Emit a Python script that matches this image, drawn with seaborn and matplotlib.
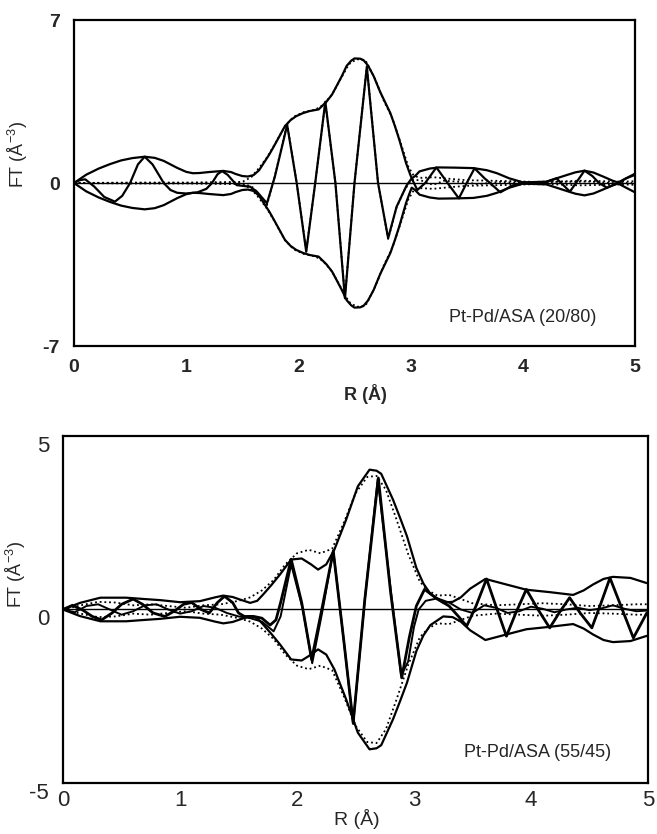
import numpy as np
import seaborn as sns
import matplotlib
matplotlib.use("Agg")
import matplotlib.pyplot as plt
from matplotlib.transforms import ScaledTranslation

# ---------------- Pt-Pd/ASA (20/80) ----------------
r_mag_top = [0.00, 0.11, 0.22, 0.32, 0.42, 0.52, 0.63, 0.72, 0.80, 0.92,
             1.00, 1.06, 1.12, 1.20, 1.33, 1.40, 1.44, 1.50, 1.55, 1.60,
             1.65, 1.69, 1.74, 1.78, 1.83, 1.88, 1.93, 1.98, 2.04, 2.10,
             2.18, 2.25, 2.30, 2.34, 2.39, 2.43, 2.47, 2.50, 2.55, 2.58,
             2.62, 2.67, 2.73, 2.78, 2.82, 2.86, 2.90, 2.93, 2.96, 2.99,
             3.01, 3.04, 3.08, 3.17, 3.25, 3.40, 3.56, 3.68, 3.77, 3.88,
             4.00, 4.10, 4.21, 4.30, 4.39, 4.47, 4.55, 4.63, 4.72, 4.80,
             4.85, 4.92, 5.00]
mag_top = [0.00, 0.36, 0.62, 0.81, 0.97, 1.07, 1.13, 1.08, 0.95, 0.65,
           0.48, 0.42, 0.43, 0.47, 0.52, 0.47, 0.39, 0.30, 0.28, 0.34,
           0.55, 0.85, 1.22, 1.56, 2.00, 2.44, 2.70, 2.87, 3.00, 3.09,
           3.16, 3.49, 3.80, 4.16, 4.62, 5.03, 5.25, 5.35, 5.34, 5.28,
           5.05, 4.60, 3.90, 3.40, 3.00, 2.45, 1.85, 1.35, 0.85, 0.45,
           0.20, 0.30, 0.50, 0.62, 0.67, 0.66, 0.64, 0.55, 0.42, 0.20,
           0.03, 0.04, 0.06, 0.20, 0.34, 0.46, 0.53, 0.45, 0.27, 0.10,
           0.02, 0.20, 0.40]

r_im_top = [0.00, 0.05, 0.10, 0.18, 0.27, 0.365, 0.43, 0.50, 0.57, 0.63,
            0.70, 0.80, 0.86, 0.92, 1.00, 1.10, 1.18, 1.23, 1.28, 1.32,
            1.37, 1.45,
            1.57, 1.63, 1.72, 1.79, 1.90, 1.985, 2.07, 2.15, 2.24, 2.33,
            2.415, 2.50, 2.61, 2.71, 2.80, 2.875, 2.965, 3.01, 3.06, 3.13,
            3.23, 3.33, 3.43, 3.50, 3.57, 3.66, 3.72, 3.80, 3.91, 4.00,
            4.10, 4.20, 4.30, 4.42, 4.55, 4.62, 4.68, 4.75, 4.85, 4.92,
            5.00]
im_top = [0.00, 0.12, 0.16, -0.15, -0.60, -0.80, -0.55, 0.00, 0.80, 1.13,
          0.80, 0.00, -0.30, -0.42, -0.45, -0.40, -0.25, 0.00, 0.38, 0.51,
          0.35, -0.09,
          -0.16, -0.37, -0.87, 0.27, 2.49, 0.00, -2.95, 0.00, 3.49, 0.00,
          -4.95, 0.00, 4.99, 0.00, -2.37, -1.02, -0.10, 0.20, -0.30, 0.00,
          0.67, 0.00, -0.66, 0.00, 0.63, 0.20, -0.05, -0.40, -0.10, 0.02,
          0.00, 0.03, 0.20, -0.37, 0.53, 0.30, 0.00, -0.20, 0.00, 0.20,
          0.35]

r_fitmag_top = [0.00, 0.50, 1.00, 1.50, 1.58, 1.65, 1.72, 1.80, 1.88, 1.96,
                2.05, 2.15, 2.22, 2.30, 2.38, 2.45, 2.52, 2.60, 2.68, 2.76,
                2.84, 2.92, 2.98, 3.03, 3.10, 3.20, 3.35, 3.50, 3.70, 3.90,
                4.10, 4.30, 4.50, 4.70, 4.90, 5.00]
fitmag_top = [0.00, 0.02, 0.02, 0.05, 0.25, 0.65, 1.10, 1.75, 2.45, 2.85,
              3.05, 3.15, 3.35, 3.80, 4.50, 5.10, 5.32, 5.25, 4.50, 3.55,
              2.75, 1.60, 0.70, 0.30, 0.22, 0.25, 0.18, 0.12, 0.10, 0.08,
              0.05, 0.06, 0.10, 0.08, 0.06, 0.08]

r_fitim_top = [0.00, 0.50, 1.00, 1.50, 1.60, 1.72, 1.79, 1.90, 1.985, 2.07,
               2.15, 2.24, 2.33, 2.415, 2.50, 2.61, 2.71, 2.80, 2.875, 2.95,
               3.02, 3.10, 3.20, 3.30, 3.45, 3.60, 3.80, 4.00, 4.30, 4.60,
               4.80, 5.00]
fitim_top = [0.00, 0.00, 0.00, 0.00, -0.20, -0.95, 0.30, 2.55, 0.00, -2.90,
             0.00, 3.45, 0.00, -4.90, 0.00, 5.02, 0.00, -2.40, -1.05, -0.25,
             0.15, 0.10, -0.08, 0.10, 0.05, -0.05, 0.05, 0.00, 0.05, 0.06,
             0.00, 0.00]

# ---------------- Pt-Pd/ASA (55/45) ----------------
r_mag_bot = [0.00, 0.145, 0.32, 0.54, 0.70, 0.83, 1.00, 1.17, 1.30, 1.37,
             1.45, 1.51, 1.60, 1.66, 1.71, 1.78, 1.855, 1.95, 2.04, 2.12,
             2.18, 2.25, 2.32, 2.42, 2.52, 2.62, 2.68, 2.72, 2.82, 2.88,
             2.94, 3.02, 3.08, 3.14, 3.25, 3.33, 3.40, 3.48, 3.61, 3.70,
             3.79, 3.96, 4.16, 4.36, 4.45, 4.53, 4.62, 4.70, 4.85, 4.99]
mag_bot = [0.00, 0.19, 0.34, 0.34, 0.30, 0.27, 0.21, 0.24, 0.35, 0.40,
           0.36, 0.29, 0.19, 0.25, 0.43, 0.70, 1.01, 1.44, 1.47, 1.30,
           1.15, 1.30, 1.73, 2.59, 3.55, 4.03, 4.00, 3.91, 3.17, 2.65,
           2.11, 1.20, 0.75, 0.45, 0.20, 0.22, 0.35, 0.60, 0.88, 0.80,
           0.72, 0.57, 0.50, 0.42, 0.55, 0.72, 0.88, 0.94, 0.91, 0.76]

r_im_bot = [0.00, 0.08, 0.17, 0.25, 0.33, 0.42, 0.50, 0.60, 0.68, 0.77,
            0.87, 0.95, 1.03, 1.10, 1.18, 1.25, 1.32, 1.38, 1.45, 1.50,
            1.55, 1.63, 1.70, 1.77, 1.82, 1.86, 1.95, 2.04, 2.125, 2.20,
            2.31, 2.40, 2.48, 2.58, 2.695, 2.80, 2.895, 2.96, 3.02, 3.09,
            3.20, 3.30, 3.38, 3.45, 3.53, 3.62, 3.70, 3.79, 3.87, 3.96,
            4.06, 4.16, 4.25, 4.33, 4.42, 4.52, 4.60, 4.675, 4.78, 4.875,
            4.99]
im_bot = [0.00, 0.12, -0.02, -0.20, -0.30, -0.10, 0.15, 0.30, 0.15, -0.10,
          -0.20, -0.05, 0.15, 0.20, 0.00, -0.10, 0.20, 0.38, 0.20, -0.10,
          -0.20, -0.20, -0.25, -0.45, -0.30, 0.20, 1.45, 0.20, -1.44, -0.20,
          1.68, -0.90, -3.27, 0.30, 3.79, 0.50, -1.97, -0.80, 0.10, 0.58,
          0.30, 0.10, -0.20, -0.48, 0.10, 0.88, 0.10, -0.77, -0.10, 0.58,
          0.00, -0.53, -0.05, 0.34, -0.10, -0.53, 0.20, 0.91, 0.00, -0.82,
          -0.10]

r_fitmag_bot = [0.00, 0.15, 0.30, 0.45, 0.60, 0.75, 0.90, 1.05, 1.20, 1.35,
                1.50, 1.60, 1.70, 1.80, 1.90, 2.00, 2.10, 2.20, 2.30, 2.40,
                2.50, 2.60, 2.68, 2.76, 2.85, 2.95, 3.05, 3.12, 3.20, 3.30,
                3.40, 3.50, 3.70, 3.90, 4.10, 4.30, 4.50, 4.70, 4.90, 5.00]
fitmag_bot = [0.00, 0.12, 0.22, 0.20, 0.12, 0.15, 0.10, 0.05, 0.12, 0.15,
              0.25, 0.35, 0.55, 0.85, 1.30, 1.62, 1.72, 1.62, 1.75, 2.50,
              3.35, 3.82, 3.85, 3.45, 2.60, 1.60, 0.80, 0.55, 0.40, 0.42,
              0.30, 0.18, 0.12, 0.15, 0.18, 0.15, 0.10, 0.12, 0.15, 0.15]

r_fitim_bot = [0.00, 0.10, 0.20, 0.30, 0.40, 0.50, 0.60, 0.70, 0.80, 0.90,
               1.00, 1.10, 1.20, 1.30, 1.40, 1.50, 1.60, 1.70, 1.80, 1.86,
               1.95, 2.05, 2.13, 2.22, 2.31, 2.40, 2.48, 2.58, 2.69, 2.80,
               2.89, 2.95, 3.00, 3.04, 3.10, 3.20, 3.30, 3.40, 3.50, 3.60,
               3.70, 3.80, 3.90, 4.00, 4.10, 4.20, 4.30, 4.40, 4.50, 4.60,
               4.70, 4.80, 4.90, 5.00]
fitim_bot = [0.00, -0.08, 0.10, 0.15, 0.00, -0.15, -0.05, 0.12, 0.15, 0.00,
             -0.12, -0.05, 0.10, 0.05, -0.10, -0.20, -0.25, -0.35, -0.63, -0.20,
             1.30, 0.00, -1.55, 0.00, 1.70, -0.90, -3.30, 0.30, 3.75, 0.60,
             -1.90, -1.50, -0.50, 0.00, 0.25, 0.32, 0.20, 0.00, -0.10, 0.12,
             0.05, -0.10, -0.05, 0.08, 0.02, -0.08, 0.00, 0.05, -0.02, 0.03,
             0.12, 0.02, -0.05, -0.03]

x_ticks = [0, 1, 2, 3, 4, 5]
y_ticks_top = [-7, 0, 7]
y_ticks_bot = [-5, 0, 5]
sample_top = "Pt-Pd/ASA (20/80)"
sample_bot = "Pt-Pd/ASA (55/45)"

sns.set_style("white")
plt.rcParams["font.family"] = ["Liberation Sans", "DejaVu Sans"]
plt.rcParams["mathtext.default"] = "regular"

DOT = (0, (1, 1.6))


def trace(ax, r, v, lw=1.5, ls="-"):
    sns.lineplot(x=np.asarray(r), y=np.asarray(v), ax=ax, color="black",
                 lw=lw, linestyle=ls, estimator=None, sort=False)


fig = plt.figure(figsize=(6.57, 8.34), dpi=100)
ax1 = fig.add_axes([0.1126, 0.5851, 0.8539, 0.3909])
ax2 = fig.add_axes([0.0959, 0.0612, 0.8904, 0.4160])

# upper panel: magnitude envelope and imaginary part, fit dotted
ax1.axhline(0, color="black", lw=1.0, zorder=1)
trace(ax1, r_fitmag_top, fitmag_top, lw=1.3, ls=DOT)
trace(ax1, r_fitmag_top, -np.asarray(fitmag_top), lw=1.3, ls=DOT)
trace(ax1, r_fitim_top, fitim_top, lw=1.3, ls=DOT)
trace(ax1, r_mag_top, mag_top, lw=1.6)
trace(ax1, r_mag_top, -np.asarray(mag_top), lw=1.6)
trace(ax1, r_im_top, im_top, lw=1.6)

# lower panel
ax2.axhline(0, color="black", lw=1.0, zorder=1)
trace(ax2, r_fitmag_bot, fitmag_bot, lw=1.3, ls=DOT)
trace(ax2, r_fitmag_bot, -np.asarray(fitmag_bot), lw=1.3, ls=DOT)
trace(ax2, r_fitim_bot, fitim_bot, lw=1.4)
trace(ax2, r_mag_bot, mag_bot, lw=1.6)
trace(ax2, r_mag_bot, -np.asarray(mag_bot), lw=1.6)
trace(ax2, r_im_bot, im_bot, lw=2.0)

for ax, yt in ((ax1, y_ticks_top), (ax2, y_ticks_bot)):
    ax.set_xlim(0, 5)
    ax.set_ylim(yt[0], yt[-1])
    ax.set_xticks(x_ticks)
    ax.set_yticks(yt)
    ax.set_xticklabels([str(t) for t in x_ticks])
    ax.set_yticklabels([str(t) for t in yt])
    for s in ax.spines.values():
        s.set_visible(True)
        s.set_color("black")
        s.set_linewidth(1.6)

ax1.tick_params(axis="y", length=4, width=1, direction="out", pad=6,
                labelsize=14)
ax1.tick_params(axis="x", length=0, pad=9, labelsize=14)
for lab in ax1.get_xticklabels() + ax1.get_yticklabels():
    lab.set_fontweight("bold")

ax2.tick_params(axis="y", length=0, pad=10, labelsize=16)
ax2.tick_params(axis="x", length=0, pad=5, labelsize=16)
shift_down = ScaledTranslation(0, -0.08, fig.dpi_scale_trans)
for lab in ax2.get_yticklabels():
    lab.set_transform(lab.get_transform() + shift_down)

ax1.set_xlabel("R (Å)", fontsize=13, fontweight="bold")
ax1.xaxis.set_label_coords(0.519, -0.115)
ax1.set_ylabel("FT (Å$^{-3}$)", fontsize=13)
ax1.yaxis.set_label_coords(-0.078, 0.586)

ax2.set_xlabel("R (Å)", fontsize=14)
ax2.xaxis.set_label_coords(0.503, -0.075)
ax2.set_ylabel("FT (Å$^{-3}$)", fontsize=13)
ax2.yaxis.set_label_coords(-0.06, 0.60)

ax1.text(0.799, 0.086, sample_top, transform=ax1.transAxes, fontsize=13,
         ha="center", va="center")
ax2.text(0.812, 0.089, sample_bot, transform=ax2.transAxes, fontsize=13,
         ha="center", va="center")

fig.savefig("out.png", dpi=100)
